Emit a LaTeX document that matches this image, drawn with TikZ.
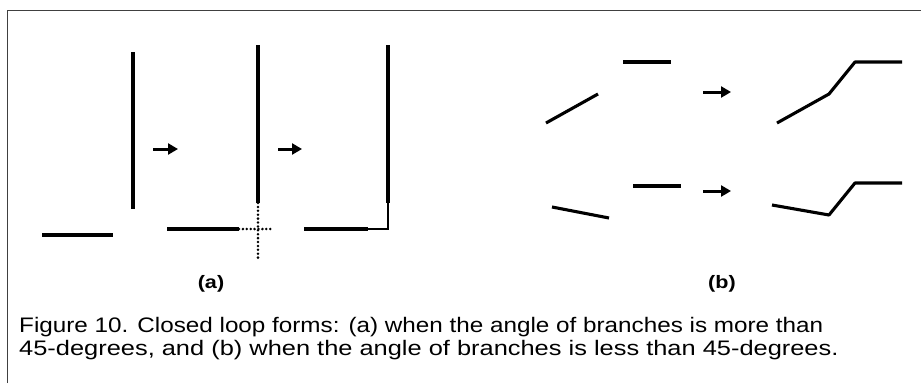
\documentclass[tikz,border=0pt]{standalone}
\usepackage{fontspec}
\setmainfont{Liberation Sans}
\usetikzlibrary{arrows.meta}
\begin{document}
\begin{tikzpicture}[x=1pt,y=-1pt,
  seg/.style={line width=3.1pt},
  thinseg/.style={line width=1.8pt},
  dotline/.style={line width=2.8pt, line cap=round, dash pattern=on 0pt off 3.9pt},
  arr/.style={line width=3pt, -{Triangle[length=10pt,width=11pt]}},
  frame/.style={line width=1.6pt, black!75},
  lab/.style={font=\fontsize{18}{20}\selectfont\bfseries, inner sep=0pt, xscale=1.2},
  captext/.style={font=\fontsize{21}{23}\selectfont, inner sep=0pt, anchor=base west}]
\useasboundingbox (0,0) rectangle (921,383);
\draw[frame] (7.5,383) -- (7.5,10.5) -- (921,10.5);
% panel (a)
\coordinate (a1) at (42,235); \coordinate (a2) at (113,235);
\draw[seg] (a1) -- (a2);
\coordinate (v1t) at (133,52); \coordinate (v1b) at (133,209);
\draw[seg] (v1t) -- (v1b);
\coordinate (r1s) at (153,149); \coordinate (r1e) at (178,149);
\draw[arr] (r1s) -- (r1e);
\coordinate (h2s) at (167,229); \coordinate (h2e) at (239,229); \coordinate (h2d) at (272,229);
\draw[seg] (h2s) -- (h2e);
\draw[dotline] (h2e) -- (h2d);
\coordinate (v2t) at (258,45); \coordinate (v2b) at (258,203); \coordinate (v2d) at (258,259);
\draw[seg] (v2t) -- (v2b);
\draw[dotline] (v2b) -- (v2d);
\coordinate (r2s) at (278,149); \coordinate (r2e) at (302,149);
\draw[arr] (r2s) -- (r2e);
\coordinate (h3s) at (304,229); \coordinate (h3e) at (368,229);
\coordinate (cn) at (388,229); \coordinate (v3b) at (388,203); \coordinate (v3t) at (388,45);
\draw[seg] (h3s) -- (h3e);
\draw[seg] (v3t) -- (v3b);
\draw[thinseg] (h3e) -- (cn) -- (v3b);
\node[lab] (la) at (211,284) {(a)};
% panel (b) top
\coordinate (b1) at (623,62); \coordinate (b2) at (671,62);
\draw[seg] (b1) -- (b2);
\coordinate (s1) at (546,123); \coordinate (s2) at (598,94);
\draw[seg] (s1) -- (s2);
\coordinate (r3s) at (703,92); \coordinate (r3e) at (731,92);
\draw[arr] (r3s) -- (r3e);
\coordinate (t1) at (777,123); \coordinate (t2) at (829,94); \coordinate (t3) at (855,62); \coordinate (t4) at (902,62);
\draw[seg, line join=round] (t1) -- (t2) -- (t3) -- (t4);
% panel (b) bottom
\coordinate (c1) at (633,186); \coordinate (c2) at (681,186);
\draw[seg] (c1) -- (c2);
\coordinate (d1) at (552,207); \coordinate (d2) at (609,218);
\draw[seg] (d1) -- (d2);
\coordinate (r4s) at (703,191); \coordinate (r4e) at (731,191);
\draw[arr] (r4s) -- (r4e);
\coordinate (u1) at (772,205); \coordinate (u2) at (829,215); \coordinate (u3) at (855,183); \coordinate (u4) at (902,183);
\draw[seg, line join=round] (u1) -- (u2) -- (u3) -- (u4);
\node[lab] (lb) at (722,284) {(b)};
% caption
\node[captext, xscale=1.155] (c1t) at (19,332) {Figure 10. Closed loop forms: (a) when the angle of branches is more than};
\node[captext, xscale=1.21] (c2t) at (19,355) {45-degrees, and (b) when the angle of branches is less than 45-degrees.};
\end{tikzpicture}
\end{document}
